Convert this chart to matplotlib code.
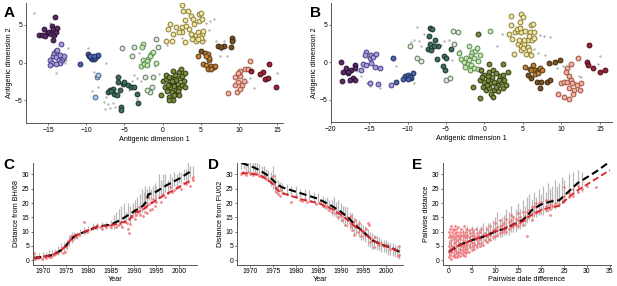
import matplotlib
matplotlib.use("Agg")
import matplotlib.pyplot as plt

plt.rcParams['font.family'] = ['Liberation Sans', 'DejaVu Sans']
plt.rcParams['font.size'] = 5.2

# ---- panel A: antigenic map, clusters (x, y) ----
a_hk68 = [(-16.2,3.6),(-15.8,3.7),(-15.5,4.5),(-15.2,3.9),(-14.9,4.0),(-14.6,3.8),(-14.5,4.8),(-14.3,4.4),
          (-14.2,3.6),(-14.1,6.0),(-14.0,4.1),(-13.8,4.6),(-14.4,3.0),(-15.4,3.5)]
a_en72 = [(-14.8,0.4),(-14.5,0.0),(-14.3,0.8),(-14.2,1.2),(-14.0,1.5),(-13.8,1.7),(-13.9,0.7),(-13.6,0.3),
          (-13.4,-0.1),(-13.2,0.4),(-13.0,0.6),(-13.5,1.0),(-14.7,-0.3),(-13.3,2.4),(-13.9,-0.2),(-12.9,0.9)]
a_vi75 = [(-10.8,-0.2),(-9.8,1.1),(-9.6,0.8),(-9.4,0.6),(-9.2,0.5),(-9.0,0.5),(-8.8,0.6),(-8.6,0.8),(-8.4,1.0),
          (-9.5,0.9),(-9.0,0.8)]
a_tx77 = [(-8.6,-1.9),(-8.4,-1.7),(-8.9,-4.5)]
a_bk79 = [(-5.8,-1.9),(-5.8,-2.6),(-6.9,-3.7),(-6.5,-3.5),(-6.3,-4.1),(-6.0,-4.3),(-5.6,-3.7),(-5.2,-2.8),
          (-5.0,-2.6),(-4.5,-3.0),(-4.1,-3.2),(-3.7,-3.2),(-3.3,-4.1),(-3.2,-5.4),(-5.4,-5.9),(-5.4,-6.3),
          (-7.1,-3.9),(-6.7,-3.8)]
a_si87 = [(-5.3,1.9),(-4.0,0.9),(-3.7,2.1),(-2.3,-1.9),(-1.2,-1.9),(-1.4,-3.2),(-1.6,-3.9),(-2.1,-3.7),
          (-0.8,3.1),(-0.6,2.0)]
a_be89 = [(-2.6,2.5),(-2.7,2.1),(-1.5,1.1),(-1.3,1.4),(-1.9,0.5),(-2.6,0.3),(-2.3,0.0),(-2.8,-0.4),
          (-2.1,0.2),(-0.8,0.0),(-1.7,0.8),(-2.4,-0.2),(-2.0,-0.3)]
a_be92 = [(-0.2,-4.3),(0.1,-2.5),(0.3,-3.2),(0.5,-2.2),(0.6,-3.8),(0.8,-2.8),(0.9,-4.5),(1.0,-3.3),(1.1,-2.0),
          (1.2,-3.9),(1.3,-2.6),(1.4,-4.9),(1.5,-3.1),(1.6,-1.6),(1.7,-3.6),(1.8,-2.3),(1.9,-4.2),(2.0,-2.9),
          (2.1,-1.2),(2.2,-3.4),(2.3,-2.1),(2.4,-0.9),(2.5,-3.0),(2.6,-1.8),(2.8,-2.5),(3.0,-3.2),(1.4,-1.1),
          (0.4,-1.6),(1.5,-4.3),(0.7,-3.0),(2.0,-3.8),(1.2,-2.4),(0.9,-1.9),(2.2,-4.3),(0.9,-5.0),(2.9,-1.4)]
a_sy97 = [(2.5,7.6),(2.7,6.8),(3.3,6.8),(3.7,6.2),(4.8,6.4),(5.0,6.6),(1.0,5.1),(1.8,4.7),(2.5,4.7),(3.1,4.9),
          (2.6,4.0),(3.5,4.4),(4.1,5.1),(4.8,5.5),(0.7,4.4),(1.4,3.8),(2.1,4.0),(3.7,3.8),(3.9,3.1),(4.4,3.6),
          (4.7,4.0),(4.9,3.4),(5.1,3.8),(4.4,2.9),(0.5,2.9),(1.2,2.9),(2.9,2.7),(5.1,2.9),(4.8,3.5),(5.0,3.2),
          (4.6,3.1),(5.3,4.2),(3.0,5.6),(4.0,5.8),(5.2,5.8)]
a_fu02 = [(4.7,0.9),(5.3,-0.2),(5.5,1.3),(5.9,1.1),(6.1,0.4),(6.3,-0.4),(6.7,-0.6),(5.7,-0.3),(5.9,-0.9),
          (6.9,-0.5),(6.1,0.6),(5.7,0.8),(6.4,-0.8)]
a_dkbr = [(9.1,3.3),(9.1,2.9),(8.9,2.0),(8.1,2.2),(7.2,2.2),(7.6,2.0),(5.0,1.5)]
a_ca04 = [(8.6,-4.0),(9.7,-3.9),(9.5,-3.0),(9.9,-2.6),(9.5,-1.9),(10.2,-1.8),(10.2,-1.1),(10.8,-0.9),
          (11.2,-0.9),(11.4,0.2),(10.4,-3.0),(10.2,-3.5),(9.9,-1.4),(10.6,-2.4)]
a_wi05 = [(14.0,-0.2),(13.2,-1.2),(12.8,-1.5),(13.4,-2.2),(13.8,-2.0),(14.9,-3.2),(11.6,-1.1)]
a_gray = [(-16.8,6.6),(-14.8,5.2),(-12.4,1.9),(-13.9,-1.4),(-12.7,0.4),(-12.8,-0.1),(-9.8,1.9),(-7.4,0.0),
          (-9.0,-1.2),(-9.2,-3.8),(-8.4,-3.2),(-7.7,-5.2),(-7.4,-4.6),(-7.2,-5.5),(-7.5,-6.2),(-6.9,-6.0),
          (-6.5,-5.3),(-6.2,-5.9),(-4.4,-3.6),(-3.8,-1.7),(-3.4,-2.1),(-4.0,-2.5),(-3.1,1.3),(-1.0,-0.4),
          (0.6,2.3),(-0.5,-1.5),(1.6,3.6),(3.8,3.5),(5.5,3.0),(5.7,5.3),(6.2,5.5),(6.8,5.8),(6.1,4.3),(7.0,2.8),
          (7.6,1.6),(8.0,2.8),(8.4,0.9),(7.5,0.8),(9.5,3.0),(10.5,-3.2),(11.0,-2.6),(11.5,-2.1),(12.0,-3.4),
          (13.5,-2.5),(15.0,-1.4),(2.5,3.2),(-3.3,-4.8),(-2.8,-2.5)]

# ---- panel B ----
b_hk68 = [(-18.6,0.0),(-18.4,-1.3),(-18.0,-0.8),(-17.7,-1.5),(-17.3,-1.1),(-16.9,-0.4),(-16.8,-0.8),
          (-17.1,-2.1),(-16.9,-2.4),(-18.5,-2.5),(-17.5,-2.4),(-17.8,-1.3)]
b_en72 = [(-15.4,1.4),(-15.6,0.9),(-14.9,0.5),(-14.7,0.9),(-14.5,0.7),(-14.1,1.1),(-15.8,-0.2),(-16.0,-1.1),
          (-15.4,-0.4),(-14.3,-0.6),(-13.6,-0.8),(-14.9,-2.8),(-13.8,-2.9),(-14.8,-0.1),(-12.1,-3.0)]
b_vi75 = [(-11.9,0.6),(-11.5,-2.6),(-10.4,-1.9),(-9.9,-1.7),(-9.5,-2.1),(-9.3,-1.5),(-9.7,-2.0),(-10.6,-2.3),
          (-10.0,-2.2)]
b_bk79 = [(-7.1,4.6),(-6.8,4.4),(-7.2,3.5),(-7.1,2.4),(-7.3,1.8),(-6.9,1.6),(-6.4,3.0),(-6.0,2.2),(-6.6,2.2),
          (-6.2,0.4),(-5.3,0.8),(-5.0,0.5),(-5.4,-0.5),(-5.1,-1.0),(-4.3,1.7)]
b_si87 = [(-9.7,2.1),(-8.8,0.5),(-8.3,0.2),(-5.0,-2.4),(-4.5,-2.1),(-4.1,4.2),(-3.5,4.0),(-3.9,2.4)]
b_be89 = [(-3.0,0.4),(-2.7,0.0),(-2.4,0.6),(-2.2,-0.3),(-2.0,0.3),(-1.8,0.9),(-1.6,1.3),(-1.4,0.5),(-1.2,1.5),
          (-1.0,1.9),(-0.9,0.2),(-1.7,-0.4),(-2.5,-0.7),(-1.3,-0.8),(-0.8,-0.9),(-3.3,1.2),(-2.0,2.2),(-0.6,1.0),
          (-1.9,-1.0),(0.7,4.1)]
b_be92 = [(-0.4,-1.05),(0.0,-1.7),(0.6,-1.3),(1.1,-1.05),(1.5,-1.5),(2.0,-1.9),(2.4,-1.7),(3.1,-1.3),(-0.6,-2.4),
          (0.0,-2.6),(0.4,-2.4),(0.9,-2.8),(1.3,-2.6),(1.8,-3.0),(2.2,-2.6),(2.6,-2.4),(-0.2,-3.3),(0.2,-3.7),
          (0.6,-3.5),(1.3,-3.7),(1.8,-3.9),(2.4,-3.5),(-1.5,-3.3),(-0.6,-4.8),(2.4,-0.2),(0.6,-0.2),(-0.8,3.8),
          (1.0,-2.0),(0.3,-3.0),(1.5,-3.3),(0.8,-4.2),(2.8,-3.0),(-0.3,-2.0),(1.1,-4.6),(0.5,-1.9),(1.9,-2.4)]
b_sy97 = [(3.5,6.2),(4.8,6.4),(5.0,6.0),(4.6,5.3),(3.4,5.0),(6.1,5.0),(6.3,5.1),(4.0,4.0),(4.4,4.2),(4.8,4.0),
          (5.3,4.2),(5.9,4.0),(6.5,4.0),(3.2,3.8),(3.6,3.1),(4.3,2.4),(4.7,2.2),(5.1,2.4),(5.6,2.0),(5.8,1.6),
          (5.4,1.1),(4.7,1.6),(3.9,1.1),(6.0,0.9),(5.6,2.9),(6.2,2.9),(5.8,3.5),(6.5,3.2),(5.2,2.9),(4.2,4.4),
          (4.5,3.0),(5.0,1.9),(4.6,4.6)]
b_fu02 = [(5.9,-0.9),(6.1,-1.05),(6.6,-1.1),(7.0,-1.05),(6.3,-0.4),(6.8,-1.3),(7.2,-0.8),(7.5,-1.05),
          (5.3,-0.6),(6.6,-1.6),(7.0,-1.4)]
b_dkbr = [(5.7,-1.7),(6.1,-2.1),(6.8,-2.6),(7.4,-2.6),(8.2,-2.6),(8.5,-2.4),(7.2,-3.5),(9.2,0.0),(9.8,0.3),
          (8.4,-0.1)]
b_ca04 = [(10.8,-0.8),(10.6,-1.3),(11.2,-0.2),(12.2,0.5),(10.0,-2.8),(10.4,-2.6),(10.8,-2.6),(11.2,-2.4),
          (11.4,-2.8),(11.0,-3.5),(11.7,-3.7),(12.1,-3.0),(12.4,-3.7),(9.6,-4.3),(10.4,-4.6),(11.0,-4.9),
          (11.5,-4.3),(12.6,-2.8),(11.0,-1.8)]
b_wi05 = [(13.6,2.3),(13.3,0.05),(13.5,-0.4),(14.1,-0.8),(15.0,-1.3),(15.7,-1.1)]
b_gray = [(-8.8,4.7),(-9.2,3.0),(-8.5,2.8),(-9.5,2.7),(-7.8,3.7),(-7.5,3.3),(-8.2,2.2),(-6.5,2.5),(-5.6,2.3),
          (-5.3,2.8),(-4.6,3.0),(-3.2,1.6),(-4.2,0.3),(-11.5,-0.5),(-10.0,-2.0),(-9.2,-2.8),(-16.0,-1.8),
          (-15.3,-2.8),(-13.6,-3.5),(-14.9,-3.2),(-17.8,-2.7),(3.3,6.3),(2.3,3.7),(1.6,2.2),(-0.5,-1.4),
          (-4.9,-2.5),(7.8,3.5),(8.5,3.4),(7.2,3.6),(6.5,1.8),(7.0,1.2),(7.9,1.0),(8.8,-0.2),(9.4,-0.8),
          (10.2,-0.5),(12.3,-1.8),(12.6,-2.0),(11.8,-2.7),(15.0,0.8),(14.8,-0.2),(5.5,-0.9),(-16.6,-1.2)]

# ---- panel C: distance from BH/68 ----
c_bar_x = [1968.0,1968.5,1969.2,1970.0,1970.6,1971.3,1972.0,1972.7,1973.3,1974.0,1974.6,1975.2,1975.8,1976.3,
           1976.9,1977.5,1978.2,1979.0,1980.0,1981.0,1982.0,1983.0,1984.0,1985.0,1985.6,1986.2,1986.8,1987.3,
           1987.8,1988.3,1988.8,1989.3,1989.8,1990.3,1990.8,1991.3,1991.8,1992.2,1992.6,1993.0,1993.4,1993.8,
           1994.2,1994.6,1995.0,1995.5,1996.0,1996.5,1997.0,1997.5,1998.0,1998.5,1999.0,1999.5,2000.0,2000.5,
           2001.0,2001.5,2002.0,2002.5,2003.0]
c_bar_lo = [0,0,0.5,0,0.5,1,1,1.5,2,2.5,3,3.5,5,6,7,7.5,8.5,9,9.5,10.5,10.5,11,11,11,11,12,12,12,13,13,14,13,
            15,15,16,16,17,18,20,19,21,21,22,20,21,22,22,23,24,23,25,25,26,26,27,27,28,28,28,29,29]
c_bar_hi = [3,2,2.5,3,3,3.5,3.5,4,5,6,6.5,7,9,10,10,10,11,11.5,12,13,13,13.5,13.5,14,16,17,18,19,20,17,20,19,
            20,21,22,23,25,24,26,25,26,25,26,27,26,30,28,30,30,28,30,29,31,30,31,31,32,32,35,33,33]
c_red_x = [1968.1,1968.3,1968.6,1969.0,1969.4,1969.8,1970.2,1970.6,1971.0,1971.4,1971.8,1972.2,1972.6,1973.0,
           1973.4,1973.8,1974.2,1974.5,1974.8,1975.0,1975.3,1975.6,1975.9,1976.2,1976.5,1976.8,1977.0,1977.3,
           1978.0,1979.0,1979.5,1980.0,1980.5,1981.0,1981.5,1982.0,1982.5,1983.0,1984.0,1984.5,1985.0,1985.5,
           1986.0,1986.5,1987.0,1987.5,1988.0,1988.5,1988.8,1989.0,1989.3,1989.6,1990.0,1990.3,1990.6,1990.9,
           1991.2,1991.5,1991.8,1992.0,1992.2,1992.4,1992.6,1992.8,1993.0,1993.2,1993.4,1993.6,1993.8,1994.0,
           1994.3,1994.6,1995.0,1995.5,1996.0,1996.5,1997.0,1997.5,1998.0,1998.5,1999.0,1999.5,2000.0,2000.5,
           2001.0,2001.5,2002.0,2002.5,2003.0,2003.0]
c_red_y = [2.5,0.6,1.0,0.8,1.2,0.5,1.5,0.7,1.9,1.2,1.0,1.8,2.2,2.5,3.0,3.6,4.2,2.5,3.0,4.5,5.5,6.5,7.5,8.5,7.0,
           8.0,9.0,8.2,9.0,13.5,10.0,10.6,10.8,11.5,11.2,12.5,11.6,11.0,11.8,12.5,11.5,12.8,11.8,12.2,12.8,11.5,
           13.5,13.0,11.0,9.5,12.8,15.0,17.5,14.5,16.0,17.0,18.5,16.0,17.8,15.5,19.0,20.0,17.0,18.5,16.5,22.0,
           19.5,17.5,20.5,18.0,21.5,19.0,20.5,22.0,20.5,23.0,22.0,23.5,25.5,24.0,24.5,25.5,26.0,25.0,27.0,26.5,
           27.5,25.8,29.0,28.0]
c_mean_x = [1968,1970,1972,1974,1975,1976,1977,1980,1982,1985,1987,1990,1991,1992,1992.8,1993.2,1995,1997,2000,2003]
c_mean_y = [0.8,1.2,1.8,3.5,5.0,7.0,8.5,10.5,11.7,12.5,14.0,17.0,18.0,19.0,20.5,23.0,24.0,26.0,28.5,31.5]
c_fit_x = [1968,1970,1972,1974,1975,1976,1977,1980,1982,1985,1988,1989,1990,1992,1993,1995,1997,2000,2003]
c_fit_y = [0.8,1.2,1.8,3.5,5.0,7.0,8.5,10.5,11.7,12.2,13.5,14.0,16.5,17.5,19.0,21.0,23.0,25.5,28.5]

# ---- panel D: distance from FU/02 ----
d_bar_x = [1968.0,1968.5,1969.0,1969.5,1970.0,1970.5,1971.0,1971.5,1972.0,1972.5,1973.0,1973.5,1974.0,1974.5,
           1975.0,1975.5,1976.0,1976.5,1977.0,1978.0,1979.0,1980.0,1981.0,1982.0,1983.0,1984.0,1985.0,1986.0,
           1986.5,1987.0,1987.5,1988.0,1988.5,1989.0,1989.5,1990.0,1990.5,1991.0,1991.5,1992.0,1992.5,1993.0,
           1993.5,1994.0,1994.5,1995.0,1995.5,1996.0,1996.5,1997.0,1997.5,1998.0,1998.5,1999.0,1999.5,2000.0,
           2000.5,2001.0,2001.5,2002.0,2002.5,2003.0]
d_bar_lo = [32,32,31,31,30.5,31,30,30,29.5,29,28.5,28,27.5,26,25,24,23.5,24,23,23,22.5,22,21.5,21,20.5,20,19.5,
            18.5,18,17.5,17,16,15.5,15,14,13.5,13,12,11.5,11,10.5,9,9,8,7,7,6.5,5,4.5,4,4,3.5,3.5,3,3,2.5,2,2,
            1.5,1,1,0.5]
d_bar_hi = [36,35.5,35,36,35,36,35,34,33.5,33,33,32,31.5,31,33,30,28,27.5,27,26.5,26,26,25,25,24.5,24,23.5,22.5,
            21.5,22,21,21,22,20.5,21,20,19,19,18.5,17,16.5,15,14.5,14,13,12.5,12,11,10,9.5,9,8.5,8,7.5,7,7,6.5,
            6,6,5.5,5,5]
d_red_x = [1968.0,1968.3,1968.6,1969.0,1969.4,1969.8,1970.2,1970.6,1971.0,1971.5,1972.0,1972.5,1973.0,1973.5,
           1974.0,1974.5,1975.0,1975.3,1975.6,1975.9,1976.2,1976.5,1976.8,1977.2,1978.0,1979.0,1980.0,1981.0,
           1981.5,1982.0,1982.5,1983.5,1984.5,1985.5,1986.0,1986.5,1987.0,1987.5,1988.0,1988.5,1989.0,1989.5,
           1990.0,1990.3,1990.6,1991.0,1991.3,1991.6,1992.0,1992.2,1992.4,1992.6,1992.8,1993.0,1993.2,1993.4,
           1993.6,1993.8,1994.0,1994.3,1994.6,1995.0,1995.3,1995.6,1996.0,1996.3,1996.6,1997.0,1997.3,1997.6,
           1998.0,1998.5,1999.0,1999.5,2000.0,2001.0,2002.0,2003.0,2003.0,2002.8]
d_red_y = [30.0,31.0,30.5,29.8,30.8,30.2,30.6,29.9,30.4,30.0,29.5,29.0,29.3,28.5,28.0,27.5,29.5,26.5,24.0,25.5,
           23.0,22.5,24.5,23.5,23.0,20.5,22.5,21.0,20.8,21.5,20.5,20.8,19.5,20.5,19.0,18.5,18.8,17.5,17.0,18.0,
           16.5,15.0,15.5,14.0,16.5,12.5,15.0,14.0,13.0,12.0,15.5,10.5,13.5,9.0,14.0,11.5,12.5,10.0,13.0,11.0,
           8.5,10.0,9.0,11.0,13.0,12.5,6.5,7.0,4.5,8.0,6.5,5.5,6.0,5.0,5.5,4.0,3.5,2.0,5.0,1.5]
d_mean_x = [1968,1970,1972,1974,1975,1976,1977,1980,1982,1985,1988,1990,1992,1993,1995,1997,1999,2001,2003]
d_mean_y = [34.0,33.0,31.5,29.5,28.0,26.5,25.5,24.0,23.0,21.5,19.0,17.0,14.5,12.5,10.0,7.0,5.5,4.5,3.0]
d_fit_x = [1968,1970,1972,1974,1975,1976,1977,1980,1982,1985,1988,1990,1992,1993,1995,1997,1999,2001,2003]
d_fit_y = [30.5,30.3,29.8,28.0,26.5,24.5,23.5,22.0,21.0,20.0,18.0,16.0,13.5,12.0,10.0,7.0,5.5,4.5,3.0]

# ---- panel E: pairwise distance vs date difference ----
e_bar_x = [0,0.5,1,1.5,2,2.5,3,3.5,4,4.5,5,5.5,6,6.5,7,7.5,8,8.5,9,9.5,10,10.5,11,11.5,12,12.5,13,13.5,14,14.5,
           15,15.5,16,16.5,17,17.5,18,18.5,19,19.5,20,20.5,21,21.5,22,22.5,23,23.5,24,24.5,25,26,27,28,29]
e_bar_lo = [1,2,1,2,2,3,2,3,3,4,4,4,5,5,5,6,6,6,7,7,7,8,8,8,9,9,9,10,10,10,11,11,12,12,13,14,14,15,15,16,16,16,
            17,17,18,18,18,19,19,20,20,22,23,24,24]
e_bar_hi = [7,9,8,10,9,10,11,10,12,11,12,11,12,11,12,13,12,13,13,14,15,17,14,15,16,18,17,19,16,18,20,18,21,19,
            22,23,21,24,22,25,23,26,24,27,25,26,28,26,27,29,28,30,31,31.5,31]
e_red = [(0.0,[1,3,5,8,10]),(0.2,[2,6,9,11]),(0.4,[0.5,4,7,12]),(0.6,[3,5,8,10]),(0.8,[1.5,4.5,9,11]),
         (1.0,[2,6,7.5,10.5]),(1.2,[1,3.5,8,12]),(1.4,[4,6.5,9.5]),(1.6,[2.5,5,8.5,11]),(1.8,[1,3,7,10]),
         (2.0,[2,5.5,9,11.5]),(2.2,[3,6,8]),(2.4,[1.5,4,7.5,10]),(2.6,[2.5,5,9,11]),(2.8,[3.5,6,8.5]),
         (3.0,[2,4.5,7,10]),(3.2,[3,5.5,9,12]),(3.4,[1.5,4,6.5,8]),(3.6,[3,6,10]),(3.8,[2.5,5,8,11]),
         (4.0,[4,6.5,9]),(4.3,[3,5.5,8,10.5]),(4.6,[4.5,7,9.5]),(4.9,[3.5,6,8.5,11]),(5.2,[5,7.5,10]),
         (5.5,[4,6,9]),(5.8,[5.5,8,11]),(6.1,[4.5,7,9.5]),(6.4,[6,8.5]),(6.7,[5,7.5,10]),(7.0,[6,8,11]),
         (7.4,[5.5,9]),(7.8,[7,9.5]),(8.2,[6.5,8.5,11]),(8.6,[7.5,10]),(9.0,[7,9,12]),(9.5,[8,10.5]),
         (10.0,[8.5,11,13]),(10.5,[9,11.5]),(11.0,[9.5,12,14]),(11.5,[10,12.5]),(12.0,[10.5,13]),
         (12.5,[10,12,14.5]),(13.0,[11,13.5]),(13.5,[11.5,14,16]),(14.0,[12,13,15]),(14.5,[12.5,14.5]),
         (15.0,[12,14,16.5]),(15.5,[13,15]),(16.0,[12.5,14.5,17]),(16.5,[14,15.5]),(17.0,[8.5,15,17]),
         (17.5,[15.5,17.5]),(18.0,[14,16,18.5]),(18.5,[17,19]),(19.0,[16.5,18.5,20]),(19.5,[17,19.5]),
         (20.0,[18,20.5]),(21.0,[17.5,19,21]),(22.0,[16,18,19.5]),(22.5,[19,21]),(23.0,[19,20]),
         (24.0,[19.5,21.5]),(25.0,[21,22.5,25.5]),(26.0,[22,23.5]),(27.0,[22.5,25]),(28.0,[24,26]),
         (29.0,[25]),(30.0,[26]),(32.0,[25.5])]
e_mean_x = [0,1,2,3,5,8,10,12,14,16,17,18,20,22,24,26,28,30,32,35]
e_mean_y = [3.0,4.0,5.0,5.8,7.0,8.5,10.0,11.0,12.5,14.0,15.5,17.5,19.5,20.5,21.0,24.0,27.0,29.0,31.0,34.5]
e_fit_x = [0,1,2,3,5,8,10,12,14,16,18,20,22,24,26,28,30,32,35]
e_fit_y = [3.0,4.0,5.0,5.8,7.0,8.5,10.0,11.0,12.5,13.5,16.0,17.5,18.5,19.0,22.0,24.5,26.5,28.5,31.5]

cluster_styles = [('#5b2a6b', '#2a1030'), ('#a99be0', '#4a3f80'), ('#4a63ad', '#1f2d5a'),
                  ('#a9c8e8', '#4a6a8a'), ('#3e6e5e', '#1a3328'), ('#dbe8d6', '#5f7a5f'),
                  ('#c6e6b0', '#5a8a50'), ('#7b8d3d', '#2f3a12'), ('#f1e7a3', '#8a7d3a'),
                  ('#c0813a', '#5a3a12'), ('#7a5424', '#3a2508'), ('#f0b3a2', '#a0503e'),
                  ('#9c2236', '#4a0a14')]

fig = plt.figure(figsize=(6.17, 2.86), dpi=100)


def style_axes(ax):
    for s in ['top', 'right']:
        ax.spines[s].set_visible(False)
    for s in ['left', 'bottom']:
        ax.spines[s].set_color('#555555')
        ax.spines[s].set_linewidth(0.7)
    ax.tick_params(length=1.6, width=0.6, color='#555555', labelsize=4.9, pad=1.0)


def map_panel(rect, clusters, gray, xlim, xticks):
    ax = fig.add_axes(rect)
    gx, gy = zip(*gray)
    ax.scatter(gx, gy, s=3, color='#b5b5b5', linewidths=0, zorder=1)
    for pts, (fc, ec) in zip(clusters, cluster_styles):
        if not pts:
            continue
        x, y = zip(*pts)
        ax.scatter(x, y, s=12, facecolor=fc, edgecolor=ec, linewidths=0.7, zorder=2)
    ax.set_xlim(*xlim)
    ax.set_ylim(-8, 7.9)
    ax.set_xticks(xticks)
    ax.set_yticks([-5, 0, 5])
    ax.set_xlabel('Antigenic dimension 1', labelpad=1.5)
    ax.set_ylabel('Antigenic dimension 2', labelpad=1)
    style_axes(ax)
    return ax


map_panel([0.042, 0.57, 0.417, 0.42],
          [a_hk68, a_en72, a_vi75, a_tx77, a_bk79, a_si87, a_be89, a_be92, a_sy97, a_fu02, a_dkbr, a_ca04, a_wi05],
          a_gray, (-17.9, 15.8), [-15, -10, -5, 0, 5, 10, 15])
map_panel([0.536, 0.573, 0.456, 0.417],
          [b_hk68, b_en72, b_vi75, [], b_bk79, b_si87, b_be89, b_be92, b_sy97, b_fu02, b_dkbr, b_ca04, b_wi05],
          b_gray, (-20, 16.6), [-20, -15, -10, -5, 0, 5, 10, 15])


def trend_panel(rect, bx, blo, bhi, rx, ry, mx, my, fx, fy, xlim, xticks, xlabel, ylabel):
    ax = fig.add_axes(rect)
    ax.vlines(bx, blo, bhi, color='#b8b8b8', linewidth=0.9, zorder=1)
    ax.scatter(rx, ry, s=4, color='#f4777a', linewidths=0, alpha=0.9, zorder=2)
    ax.plot(mx, my, color='black', lw=1.5, ls=(0, (3.5, 1.8)), zorder=3)
    ax.plot(fx, fy, color='#d6232a', lw=1.3, ls=(0, (3.5, 1.8)), zorder=3)
    ax.set_xlim(*xlim)
    ax.set_ylim(-1.5, 34)
    ax.set_xticks(xticks)
    ax.set_yticks([0, 5, 10, 15, 20, 25, 30])
    ax.set_xlabel(xlabel, labelpad=0.8)
    ax.set_ylabel(ylabel, labelpad=1.5)
    style_axes(ax)
    return ax


years = [1970, 1975, 1980, 1985, 1990, 1995, 2000]
trend_panel([0.0535, 0.075, 0.266, 0.355], c_bar_x, c_bar_lo, c_bar_hi, c_red_x, c_red_y,
            c_mean_x, c_mean_y, c_fit_x, c_fit_y, (1967.8, 2004), years, 'Year', 'Distance from BH/68')
trend_panel([0.384, 0.075, 0.269, 0.355], d_bar_x, d_bar_lo, d_bar_hi, d_red_x, d_red_y,
            d_mean_x, d_mean_y, d_fit_x, d_fit_y, (1967, 2003.8), years, 'Year', 'Distance from FU/02')

e_rx = [x for x, ys in e_red for _ in ys]
e_ry = [y for _, ys in e_red for y in ys]
trend_panel([0.718, 0.075, 0.272, 0.355], e_bar_x, e_bar_lo, e_bar_hi, e_rx, e_ry,
            e_mean_x, e_mean_y, e_fit_x, e_fit_y, (-1.3, 35.2), [0, 5, 10, 15, 20, 25, 30, 35],
            'Pairwise date difference', 'Pairwise distance')

for lbl, x, y in [('A', 0.006, 0.978), ('B', 0.502, 0.978), ('C', 0.005, 0.448), ('D', 0.337, 0.448), ('E', 0.668, 0.448)]:
    fig.text(x, y, lbl, fontsize=11, fontweight='bold', va='top', ha='left')

fig.savefig('out.png', dpi=100)
